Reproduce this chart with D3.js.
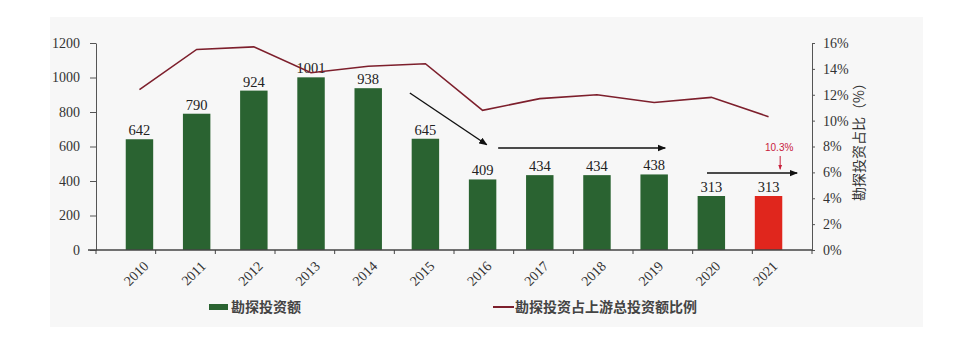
<!DOCTYPE html>
<html>
<head>
<meta charset="utf-8">
<script src="https://cdn.jsdelivr.net/npm/d3@7"></script>
<style>
  body { margin: 0; background: #fff; }
  svg { display: block; }
</style>
</head>
<body>
<div id="chart"></div>
<script>
// data
const years = ["2010","2011","2012","2013","2014","2015","2016","2017","2018","2019","2020","2021"];
const invest = [642, 790, 924, 1001, 938, 645, 409, 434, 434, 438, 313, 313];
const ratio = [12.4, 15.5, 15.7, 13.7, 14.2, 14.4, 10.8, 11.7, 12.0, 11.4, 11.8, 10.3];
const leftTicks = [0, 200, 400, 600, 800, 1000, 1200];
const rightTicks = [0, 2, 4, 6, 8, 10, 12, 14, 16];
// trend arrows: [x0 index, y0 value, x1 index, y1 value]
const arrows = [[4.76, 910, 6.05, 610], [6.24, 591, 9.04, 591], [9.74, 446, 11.25, 446]];

const W = 962, H = 354;
const margin = {top: 43, right: 150, bottom: 104, left: 96},
  width = W - margin.left - margin.right,
  height = H - margin.top - margin.bottom;

const svg = d3.select("#chart").append("svg")
  .attr("width", W).attr("height", H);

// light panel behind the chart
svg.append("rect")
  .attr("x", 50).attr("y", 17).attr("width", 873).attr("height", 310)
  .attr("fill", "#f7f7f7");

const defs = svg.append("defs");
defs.append("marker").attr("id", "arrow")
  .attr("viewBox", "0 0 10 10").attr("refX", 9).attr("refY", 5)
  .attr("markerWidth", 6).attr("markerHeight", 6).attr("orient", "auto")
  .append("path").attr("d", "M0,1L10,5L0,9z").attr("fill", "#111");
defs.append("marker").attr("id", "arrowRed")
  .attr("viewBox", "0 0 10 10").attr("refX", 9).attr("refY", 5)
  .attr("markerWidth", 5).attr("markerHeight", 5).attr("orient", "auto")
  .append("path").attr("d", "M0,1L10,5L0,9z").attr("fill", "#c8203c");

const g = svg.append("g")
  .attr("transform", `translate(${margin.left},${margin.top})`);

const x = d3.scaleBand().domain(years).range([0, width]).padding(0.52);
const xi = d3.scaleLinear().domain([-0.5, years.length - 0.5]).range([0, width]);
const y = d3.scaleLinear().domain([0, 1200]).range([height, 0]);
const y2 = d3.scaleLinear().domain([0, 16]).range([height, 0]);

const serif = "'Liberation Serif', 'Times New Roman', serif";
const cjk = "'Noto Sans CJK SC', sans-serif";

// left axis
const la = g.append("g")
  .call(d3.axisLeft(y).tickValues(leftTicks).tickFormat(d3.format("d"))
    .tickSize(6).tickPadding(10).tickSizeOuter(0));
la.selectAll("text").style("font-family", serif).style("font-size", "14px").attr("fill", "#333");
la.selectAll("line, path").attr("stroke", "#555");

// right axis
const ra = g.append("g")
  .attr("transform", `translate(${width},0)`)
  .call(d3.axisRight(y2).tickValues(rightTicks).tickFormat(d => d + "%")
    .tickSize(3).tickPadding(8).tickSizeOuter(0));
ra.selectAll("text").style("font-family", serif).style("font-size", "14px").attr("fill", "#333");
ra.selectAll("line, path").attr("stroke", "#555");

g.append("text")
  .attr("transform", `translate(${width + 52},${height / 2 - 8}) rotate(-90)`)
  .attr("text-anchor", "middle")
  .style("font-family", cjk).style("font-size", "14px").attr("fill", "#333")
  .text("勘探投资占比（%）");

// bars
g.selectAll(".bar")
  .data(years)
  .enter().append("rect")
  .attr("x", d => x(d))
  .attr("y", (d, i) => y(invest[i]))
  .attr("width", x.bandwidth())
  .attr("height", (d, i) => height - y(invest[i]))
  .attr("fill", (d, i) => i === years.length - 1 ? "#e0261d" : "#2a6331");

// bar labels
g.selectAll(".lbl")
  .data(years)
  .enter().append("text")
  .attr("x", d => x(d) + x.bandwidth() / 2)
  .attr("y", (d, i) => y(invest[i]) - 4)
  .attr("text-anchor", "middle")
  .style("font-family", serif).style("font-size", "14.5px").attr("fill", "#222")
  .text((d, i) => invest[i]);

// x axis with ticks between categories
const xa = g.append("g").attr("transform", `translate(0,${height})`);
xa.append("line").attr("x1", -8).attr("x2", width).attr("stroke", "#444").attr("stroke-width", 1.5);
xa.selectAll(".tk")
  .data(d3.range(years.length + 1))
  .enter().append("line")
  .attr("x1", d => xi(d - 0.5)).attr("x2", d => xi(d - 0.5))
  .attr("y1", 0).attr("y2", 4)
  .attr("stroke", "#444");
xa.selectAll(".xl")
  .data(years)
  .enter().append("text")
  .attr("transform", d => `translate(${x(d) + x.bandwidth() / 2 + 3},${10}) rotate(-45)`)
  .attr("text-anchor", "end")
  .attr("dy", "0.7em")
  .style("font-family", serif).style("font-size", "14px").attr("fill", "#333")
  .text(d => d);

// ratio line
const line = d3.line()
  .x((d, i) => x(years[i]) + x.bandwidth() / 2)
  .y(d => y2(d));
g.append("path")
  .datum(ratio)
  .attr("d", line)
  .attr("fill", "none")
  .attr("stroke", "#7d1f2c")
  .attr("stroke-width", 1.6);

// trend arrows
g.selectAll(".arr")
  .data(arrows)
  .enter().append("line")
  .attr("x1", d => xi(d[0])).attr("y1", d => y(d[1]))
  .attr("x2", d => xi(d[2])).attr("y2", d => y(d[3]))
  .attr("stroke", "#111").attr("stroke-width", 1.4)
  .attr("marker-end", "url(#arrow)");

// 2021 annotation
const last = years.length - 1;
g.append("text")
  .attr("x", xi(last) - 3)
  .attr("y", y(574))
  .attr("text-anchor", "middle")
  .style("font-family", "'Liberation Sans', Arial, sans-serif").style("font-size", "10px")
  .attr("fill", "#c8203c")
  .text("10.3%");
g.append("line")
  .attr("x1", xi(last) - 2).attr("x2", xi(last) - 2)
  .attr("y1", y(545)).attr("y2", y(468))
  .attr("stroke", "#c8203c").attr("stroke-width", 1)
  .attr("marker-end", "url(#arrowRed)");

// legend
const lg = svg.append("g").attr("transform", "translate(0,307)");
lg.append("rect").attr("x", 209).attr("y", -3).attr("width", 19).attr("height", 6).attr("fill", "#2a6331");
lg.append("text").attr("x", 231).attr("y", 5)
  .style("font-family", cjk).style("font-size", "14px").style("font-weight", "bold").attr("fill", "#444")
  .text("勘探投资额");
lg.append("line").attr("x1", 493).attr("x2", 514).attr("y1", 0).attr("y2", 0)
  .attr("stroke", "#7d1f2c").attr("stroke-width", 2);
lg.append("text").attr("x", 515).attr("y", 5)
  .style("font-family", cjk).style("font-size", "14px").style("font-weight", "bold").attr("fill", "#444")
  .text("勘探投资占上游总投资额比例");
</script>
</body>
</html>
